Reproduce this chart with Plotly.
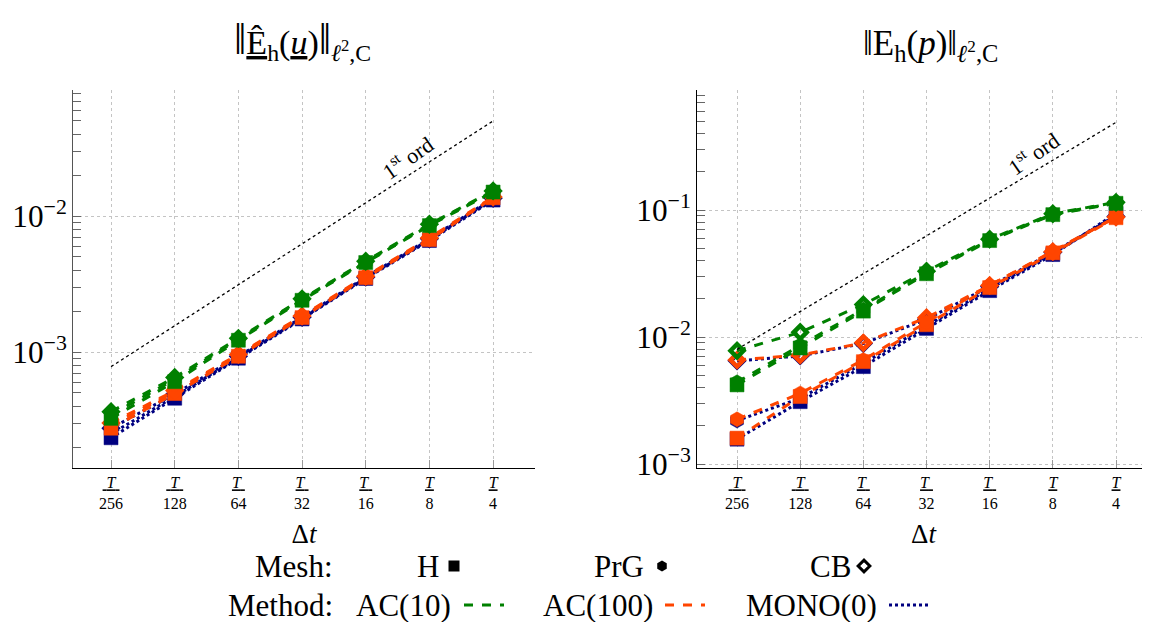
import plotly.graph_objects as go

# ---------------- data ----------------
dt_den = [256, 128, 64, 32, 16, 8, 4]
dt = [1.0 / d for d in dt_den]
tick_text = ["<u>\u00a0<i>T</i>\u00a0</u><br>256", "<u>\u00a0<i>T</i>\u00a0</u><br>128",
             "<u><i>T</i>\u00a0</u><br>64", "<u><i>T</i>\u00a0</u><br>32",
             "<u><i>T</i>\u00a0</u><br>16", "<u><i>T</i></u><br>8", "<u><i>T</i></u><br>4"]

meshes = ["H", "PrG", "CB"]
methods = ["AC(10)", "AC(100)", "MONO(0)"]

# left panel: velocity error
u_AC10_H = [3.25e-4, 6.05e-4, 1.22e-3, 2.40e-3, 4.55e-3, 8.5e-3, 1.50e-2]
u_AC10_PrG = [3.45e-4, 6.3e-4, 1.24e-3, 2.43e-3, 4.6e-3, 8.6e-3, 1.52e-2]
u_AC10_CB = [3.64e-4, 6.5e-4, 1.26e-3, 2.46e-3, 4.65e-3, 8.7e-3, 1.53e-2]
u_AC100_H = [2.75e-4, 4.95e-4, 9.3e-4, 1.79e-3, 3.52e-3, 6.7e-3, 1.36e-2]
u_AC100_PrG = [2.9e-4, 5.1e-4, 9.5e-4, 1.82e-3, 3.57e-3, 6.8e-3, 1.37e-2]
u_AC100_CB = [3.0e-4, 5.2e-4, 9.6e-4, 1.84e-3, 3.6e-3, 6.9e-3, 1.38e-2]
u_MONO_H = [2.34e-4, 4.57e-4, 9.0e-4, 1.75e-3, 3.47e-3, 6.6e-3, 1.31e-2]
u_MONO_PrG = [2.5e-4, 4.7e-4, 9.1e-4, 1.77e-3, 3.5e-3, 6.7e-3, 1.33e-2]
u_MONO_CB = [2.75e-4, 4.9e-4, 9.3e-4, 1.8e-3, 3.55e-3, 6.8e-3, 1.35e-2]
u_ref = [7.8e-4, 5.0e-2]

# right panel: pressure error
p_AC10_H = [4.2e-3, 8.2e-3, 1.60e-2, 3.15e-2, 5.75e-2, 9.2e-2, 1.13e-1]
p_AC10_PrG = [4.4e-3, 8.6e-3, 1.65e-2, 3.22e-2, 5.82e-2, 9.28e-2, 1.14e-1]
p_AC10_CB = [7.8e-3, 1.09e-2, 1.80e-2, 3.30e-2, 5.9e-2, 9.35e-2, 1.15e-1]
p_AC100_H = [1.6e-3, 3.4e-3, 6.4e-3, 1.25e-2, 2.45e-2, 4.6e-2, 8.7e-2]
p_AC100_PrG = [2.25e-3, 3.6e-3, 6.6e-3, 1.31e-2, 2.55e-2, 4.72e-2, 8.8e-2]
p_AC100_CB = [6.6e-3, 7.2e-3, 9.0e-3, 1.42e-2, 2.55e-2, 4.7e-2, 8.8e-2]
p_MONO_H = [1.57e-3, 3.1e-3, 5.85e-3, 1.17e-2, 2.32e-2, 4.46e-2, 9.4e-2]
p_MONO_PrG = [2.2e-3, 3.3e-3, 6.2e-3, 1.22e-2, 2.4e-2, 4.55e-2, 9.1e-2]
p_MONO_CB = [6.5e-3, 7.1e-3, 8.9e-3, 1.38e-2, 2.5e-2, 4.65e-2, 8.9e-2]
p_ref = [8.0e-3, 4.9e-1]

u_data = {
    ("AC(10)", "H"): u_AC10_H, ("AC(10)", "PrG"): u_AC10_PrG, ("AC(10)", "CB"): u_AC10_CB,
    ("AC(100)", "H"): u_AC100_H, ("AC(100)", "PrG"): u_AC100_PrG, ("AC(100)", "CB"): u_AC100_CB,
    ("MONO(0)", "H"): u_MONO_H, ("MONO(0)", "PrG"): u_MONO_PrG, ("MONO(0)", "CB"): u_MONO_CB,
}
p_data = {
    ("AC(10)", "H"): p_AC10_H, ("AC(10)", "PrG"): p_AC10_PrG, ("AC(10)", "CB"): p_AC10_CB,
    ("AC(100)", "H"): p_AC100_H, ("AC(100)", "PrG"): p_AC100_PrG, ("AC(100)", "CB"): p_AC100_CB,
    ("MONO(0)", "H"): p_MONO_H, ("MONO(0)", "PrG"): p_MONO_PrG, ("MONO(0)", "CB"): p_MONO_CB,
}

# ---------------- styles / geometry ----------------
FONT = "Liberation Serif"
OFF = 8                      # page body margin of the browser
W, H = 1150 - OFF, 622 - OFF

def px(x):                   # page pixel -> paper fraction
    return (x - OFF) / W

def py(y):
    return 1 - (y - OFF) / H

method_color = {"AC(10)": "#008000", "AC(100)": "#FF4500", "MONO(0)": "#000080"}
method_dash = {"AC(10)": "dash", "AC(100)": "dash", "MONO(0)": "dot"}
mesh_symbol = {"H": "square", "PrG": "hexagon", "CB": "diamond-open"}
mesh_size = {"H": 14, "PrG": 15, "CB": 10}

fig = go.Figure()

for data, xa, ya in [(u_data, "x", "y"), (p_data, "x2", "y2")]:
    for meth in ["MONO(0)", "AC(100)", "AC(10)"]:
        for mesh in meshes:
            c = method_color[meth]
            fig.add_trace(go.Scatter(
                x=dt, y=data[(meth, mesh)], xaxis=xa, yaxis=ya,
                mode="lines+markers", showlegend=False,
                name=f"{meth} {mesh}",
                line=dict(color=c, width=3, dash=method_dash[meth]),
                marker=dict(symbol=mesh_symbol[mesh], size=mesh_size[mesh], color=c,
                            line=dict(color=c, width=4.5 if mesh == "CB" else 0.5)),
            ))

for ref, xa, ya in [(u_ref, "x", "y"), (p_ref, "x2", "y2")]:
    fig.add_trace(go.Scatter(x=[dt[0], dt[-1]], y=ref, xaxis=xa, yaxis=ya, mode="lines",
                             line=dict(color="black", width=1.3, dash="dot"), showlegend=False,
                             name="1st ord"))

# ---------------- legend: label text (annotation) followed by its key ----------------
LEG_FONT = 31
mesh_row_y, meth_row_y = 566, 605
mesh_text_end = {"H": 441, "PrG": 646, "CB": 853}
mesh_key_c = {"H": 455, "PrG": 663, "CB": 865}
meth_text_end = {"AC(10)": 453, "AC(100)": 655, "MONO(0)": 879}
meth_key_c = {"AC(10)": 486, "AC(100)": 687, "MONO(0)": 911}

leg_layout = {}
annos = []
k = 1
for mesh in meshes:
    lname = "legend" if k == 1 else f"legend{k}"
    fig.add_trace(go.Scatter(x=[None], y=[None], mode="markers", name="",
                             legend=lname, showlegend=True,
                             marker=dict(symbol=mesh_symbol[mesh], size=11 if mesh != "CB" else 9,
                                         color="black",
                                         line=dict(color="black", width=3 if mesh == "CB" else 0))))
    leg_layout[lname] = dict(x=px(mesh_key_c[mesh] - 21), y=py(mesh_row_y), xanchor="left",
                             yanchor="middle", orientation="h", bgcolor="rgba(0,0,0,0)",
                             font=dict(family=FONT, size=12), itemwidth=30)
    annos.append(dict(text=mesh, x=px(mesh_text_end[mesh]), y=py(mesh_row_y),
                      xref="paper", yref="paper", xanchor="right", yanchor="middle",
                      showarrow=False, font=dict(family=FONT, size=LEG_FONT)))
    k += 1
for meth in methods:
    lname = f"legend{k}"
    fig.add_trace(go.Scatter(x=[None], y=[None], mode="lines", name="",
                             legend=lname, showlegend=True,
                             line=dict(color=method_color[meth], width=3, dash=method_dash[meth])))
    leg_layout[lname] = dict(x=px(meth_key_c[meth] - 27), y=py(meth_row_y), xanchor="left",
                             yanchor="middle", orientation="h", bgcolor="rgba(0,0,0,0)",
                             font=dict(family=FONT, size=12), itemwidth=40)
    annos.append(dict(text=meth, x=px(meth_text_end[meth]), y=py(meth_row_y),
                      xref="paper", yref="paper", xanchor="right", yanchor="middle",
                      showarrow=False, font=dict(family=FONT, size=LEG_FONT)))
    k += 1

annos += [
    dict(text="Mesh:", x=px(335), y=py(mesh_row_y), xref="paper", yref="paper",
         xanchor="right", yanchor="middle", showarrow=False, font=dict(family=FONT, size=LEG_FONT)),
    dict(text="Method:", x=px(335), y=py(meth_row_y), xref="paper", yref="paper",
         xanchor="right", yanchor="middle", showarrow=False, font=dict(family=FONT, size=LEG_FONT)),
    dict(text="<span style='font-size:44px'>‖</span><u>Ê</u><sub>h</sub>(<u><i>u</i></u>)"
              "<span style='font-size:44px'>‖</span><sub><i>ℓ</i><sup>2</sup>,C</sub>",
         x=px(302), y=py(40), xref="paper", yref="paper", xanchor="center", yanchor="middle",
         showarrow=False, font=dict(family=FONT, size=34)),
    dict(text="‖E<sub>h</sub>(<i>p</i>)‖<sub><i>ℓ</i><sup>2</sup>,C</sub>",
         x=px(930), y=py(45), xref="paper", yref="paper", xanchor="center", yanchor="middle",
         showarrow=False, font=dict(family=FONT, size=35)),
    dict(text="1<sup>st</sup> ord", x=-1.01, y=-1.565, xref="x", yref="y",
         showarrow=False, textangle=-35, font=dict(family=FONT, size=22)),
    dict(text="1<sup>st</sup> ord", x=-1.0, y=-0.55, xref="x2", yref="y2",
         showarrow=False, textangle=-35, font=dict(family=FONT, size=22)),
]

# ---------------- axes ----------------
grid = dict(showgrid=True, gridcolor="#c4c4c4", griddash="dot", gridwidth=1.2, zeroline=False)

def xaxis(domain, rng, anchor):
    return dict(domain=domain, anchor=anchor, type="log", range=rng, automargin=False,
                tickmode="array", tickvals=dt, ticktext=tick_text,
                ticks="inside", ticklen=8, tickcolor="#999999",
                tickfont=dict(family=FONT, size=16, color="black"),
                showline=True, linecolor="black", linewidth=1.3, mirror=False,
                title=dict(text="Δ<i>t</i>", font=dict(family=FONT, size=27), standoff=12),
                **grid)

def yaxis(domain, rng, anchor, lc):
    return dict(domain=domain, anchor=anchor, type="log", range=rng, automargin=False,
                tickmode="linear", tick0=0, dtick=1, exponentformat="power",
                ticks="inside", ticklen=8, tickcolor="#666666",
                minor=dict(ticks="inside", ticklen=8, tickcolor="#666666", dtick="D1", showgrid=False),
                tickfont=dict(family=FONT, size=25, color="black"),
                showline=True, linecolor=lc, linewidth=1.3, mirror=False,
                **grid)

ydom = [py(468), py(90)]
fig.update_layout(
    width=W, height=H,
    margin=dict(l=0, r=0, t=0, b=0, autoexpand=False),
    paper_bgcolor="white", plot_bgcolor="white",
    font=dict(family=FONT, color="black"),
    xaxis=xaxis([px(73), px(535)], [-2.588, -0.404], "y"),
    yaxis=yaxis(ydom, [-3.853, -1.0735], "x", "#555555"),
    xaxis2=xaxis([px(697), 1.0], [-2.599, -0.440], "y2"),
    yaxis2=yaxis(ydom, [-3.031, -0.055], "x2", "black"),
    annotations=annos,
    **leg_layout,
)

fig.write_html("out.html")
